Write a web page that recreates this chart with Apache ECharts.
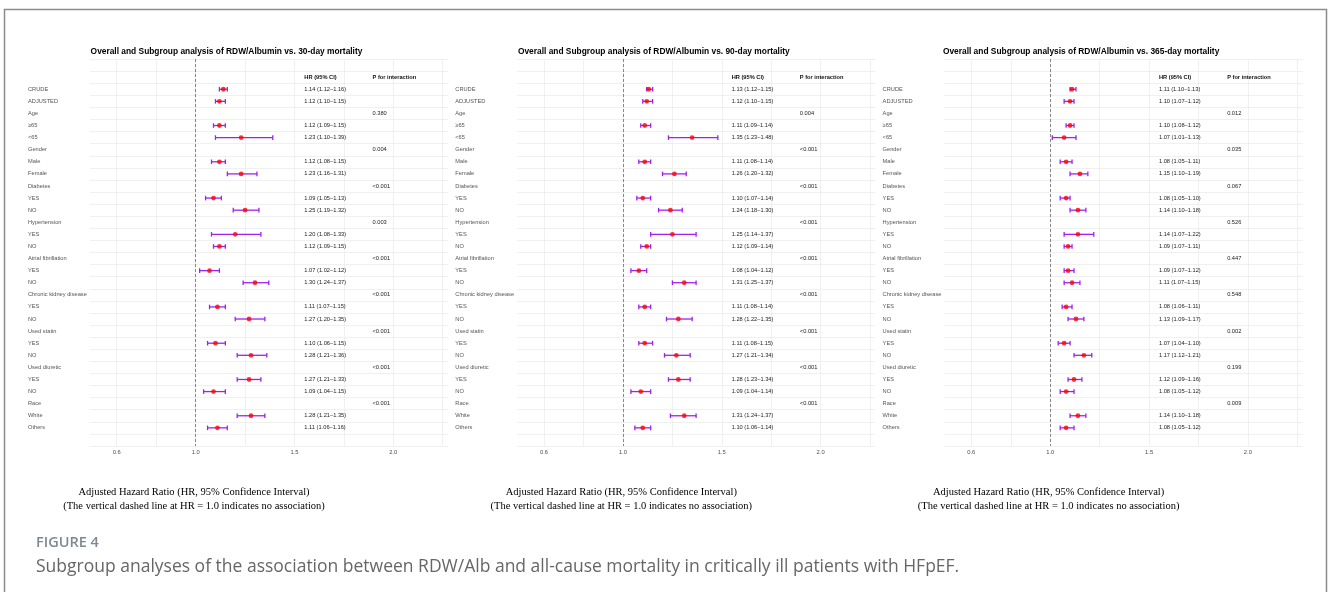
<!DOCTYPE html>
<html>
<head>
<meta charset="utf-8">
<script src="https://cdn.jsdelivr.net/npm/echarts@6/dist/echarts.min.js"></script>
<style>
html,body{margin:0;padding:0;background:#fff;}
#c{width:1328px;height:592px;}
</style>
</head>
<body>
<div id="c"></div>
<script>
// ---------- data ----------
const rowLabels = ['CRUDE','ADJUSTED','Age','≥65','<65','Gender','Male','Female','Diabetes','YES','NO','Hypertension','YES','NO','Atrial fibrillation','YES','NO','Chronic kidney disease','YES','NO','Used statin','YES','NO','Used diuretic','YES','NO','Race','White','Others'];

const titles = [
  'Overall and Subgroup analysis of RDW/Albumin vs. 30-day mortality',
  'Overall and Subgroup analysis of RDW/Albumin vs. 90-day mortality',
  'Overall and Subgroup analysis of RDW/Albumin vs. 365-day mortality'
];

const hr30 = [1.14,1.12,null,1.12,1.23,null,1.12,1.23,null,1.09,1.25,null,1.20,1.12,null,1.07,1.30,null,1.11,1.27,null,1.10,1.28,null,1.27,1.09,null,1.28,1.11];
const lo30 = [1.12,1.10,null,1.09,1.10,null,1.08,1.16,null,1.05,1.19,null,1.08,1.09,null,1.02,1.24,null,1.07,1.20,null,1.06,1.21,null,1.21,1.04,null,1.21,1.06];
const hi30 = [1.16,1.15,null,1.15,1.39,null,1.15,1.31,null,1.13,1.32,null,1.33,1.15,null,1.12,1.37,null,1.15,1.35,null,1.15,1.36,null,1.33,1.15,null,1.35,1.16];
const p30  = ['','','0.380','','','0.004','','','<0.001','','','0.003','','','<0.001','','','<0.001','','','<0.001','','','<0.001','','','<0.001','',''];

const hr90 = [1.13,1.12,null,1.11,1.35,null,1.11,1.26,null,1.10,1.24,null,1.25,1.12,null,1.08,1.31,null,1.11,1.28,null,1.11,1.27,null,1.28,1.09,null,1.31,1.10];
const lo90 = [1.12,1.10,null,1.09,1.23,null,1.08,1.20,null,1.07,1.18,null,1.14,1.09,null,1.04,1.25,null,1.08,1.22,null,1.08,1.21,null,1.23,1.04,null,1.24,1.06];
const hi90 = [1.15,1.15,null,1.14,1.48,null,1.14,1.32,null,1.14,1.30,null,1.37,1.14,null,1.12,1.37,null,1.14,1.35,null,1.15,1.34,null,1.34,1.14,null,1.37,1.14];
const p90  = ['','','0.004','','','<0.001','','','<0.001','','','<0.001','','','<0.001','','','<0.001','','','<0.001','','','<0.001','','','<0.001','',''];

const hr365 = [1.11,1.10,null,1.10,1.07,null,1.08,1.15,null,1.08,1.14,null,1.14,1.09,null,1.09,1.11,null,1.08,1.13,null,1.07,1.17,null,1.12,1.08,null,1.14,1.08];
const lo365 = [1.10,1.07,null,1.08,1.01,null,1.05,1.10,null,1.05,1.10,null,1.07,1.07,null,1.07,1.07,null,1.06,1.09,null,1.04,1.12,null,1.09,1.05,null,1.10,1.05];
const hi365 = [1.13,1.12,null,1.12,1.13,null,1.11,1.19,null,1.10,1.18,null,1.22,1.11,null,1.12,1.15,null,1.11,1.17,null,1.10,1.21,null,1.16,1.12,null,1.18,1.12];
const p365  = ['','','0.012','','','0.035','','','0.067','','','0.526','','','0.447','','','0.548','','','0.002','','','0.199','','','0.009','',''];

const xTickValues = [0.6, 1.0, 1.5, 2.0];
const xGridValues = [0.6, 0.8, 1.0, 1.25, 1.5, 1.75, 2.0, 2.25];
const refValue = 1.0;
const headerHR = 'HR (95% CI)';
const headerP = 'P for interaction';
const axisTitle1 = 'Adjusted Hazard Ratio (HR, 95% Confidence Interval)';
const axisTitle2 = '(The vertical dashed line at HR = 1.0 indicates no association)';
const figLabel = 'FIGURE 4';
const figCaption = 'Subgroup analyses of the association between RDW/Alb and all-cause mortality in critically ill patients with HFpEF.';

const panels = [
  {hr: hr30, lo: lo30, hi: hi30, p: p30},
  {hr: hr90, lo: lo90, hi: hi90, p: p90},
  {hr: hr365, lo: lo365, hi: hi365, p: p365}
];

// ---------- layout ----------
const PANEL_DX = 427.3;
const GRID_LEFT0 = 90, GRID_W = 358, GRID_TOP = 59, GRID_H = 387;
const X_MIN = 0.465, X_MAX = 2.277;
const CI_TEXT_X = 1.55, P_TEXT_X = 1.895;
const SANS = '"Liberation Sans", Arial, Helvetica, sans-serif';
const SERIF = '"Liberation Serif", "Times New Roman", serif';
const yCats = ['', ''].concat(rowLabels).concat(['']);
const ROW0 = 2, HEADER_ROW = 1;

const grids = [], xAxes = [], yAxes = [], series = [], graphics = [];

function fmt(v){ return v.toFixed(2); }

panels.forEach((pn, i) => {
  const left = GRID_LEFT0 + i * PANEL_DX;
  grids.push({left: left, top: GRID_TOP, width: GRID_W, height: GRID_H, containLabel: false});
  xAxes.push({
    type: 'value', gridIndex: i, min: X_MIN, max: X_MAX,
    axisLine: {show: false}, axisTick: {show: false},
    splitLine: {show: false},
    axisLabel: {
      customValues: xTickValues, margin: 3, color: '#4d4d4d', fontSize: 5.8, fontFamily: SANS,
      formatter: v => v.toFixed(1)
    }
  });
  yAxes.push({
    type: 'category', gridIndex: i, data: yCats, inverse: true,
    axisLine: {show: false}, axisTick: {show: false},
    splitLine: {show: true, lineStyle: {color: '#ececec', width: 0.8}},
    axisLabel: {align: 'left', margin: 62, color: '#555', fontSize: 5.7, fontFamily: SANS, interval: 0}
  });

  // vertical gridlines + reference dashed line
  series.push({
    type: 'scatter', xAxisIndex: i, yAxisIndex: i, data: [], silent: true, z: 1,
    markLine: {
      silent: true, symbol: ['none','none'], label: {show: false},
      animation: false,
      lineStyle: {color: '#ececec', width: 0.8, type: 'solid'},
      data: xGridValues.map(v => ({xAxis: v}))
    }
  });
  series.push({
    type: 'scatter', xAxisIndex: i, yAxisIndex: i, data: [], silent: true, z: 2,
    markLine: {
      silent: true, symbol: ['none','none'], label: {show: false},
      animation: false,
      lineStyle: {color: '#7a7a7a', width: 0.9, type: [3, 2]},
      data: [{xAxis: refValue}]
    }
  });

  const barData = [], ptData = [], ciData = [], pData = [];
  pn.hr.forEach((v, k) => {
    const row = ROW0 + k;
    if (v !== null) {
      barData.push([v, row, pn.lo[k], pn.hi[k]]);
      ptData.push([v, row]);
      ciData.push([CI_TEXT_X, row, fmt(v) + ' (' + fmt(pn.lo[k]) + '–' + fmt(pn.hi[k]) + ')', 0]);
    }
    if (pn.p[k]) pData.push([P_TEXT_X, row, pn.p[k], 0]);
  });
  ciData.push([CI_TEXT_X, HEADER_ROW, headerHR, 1]);
  pData.push([P_TEXT_X, HEADER_ROW, headerP, 1]);

  // error bars
  series.push({
    type: 'custom', xAxisIndex: i, yAxisIndex: i, z: 5, silent: true, animation: false,
    data: barData,
    encode: {x: [0, 2, 3], y: 1},
    renderItem: function(params, api){
      const r = api.value(1);
      const a = api.coord([api.value(2), r]);
      const b = api.coord([api.value(3), r]);
      const cap = 2.3;
      const st = {stroke: '#a020f0', lineWidth: 1.3};
      return {type: 'group', children: [
        {type: 'line', shape: {x1: a[0], y1: a[1], x2: b[0], y2: b[1]}, style: st},
        {type: 'line', shape: {x1: a[0], y1: a[1]-cap, x2: a[0], y2: a[1]+cap}, style: st},
        {type: 'line', shape: {x1: b[0], y1: b[1]-cap, x2: b[0], y2: b[1]+cap}, style: st}
      ]};
    }
  });
  // points
  series.push({
    type: 'scatter', xAxisIndex: i, yAxisIndex: i, z: 6, silent: true, animation: false,
    symbol: 'circle', symbolSize: 4.8,
    itemStyle: {color: '#ff0000'},
    data: ptData
  });
  // text columns
  [ciData, pData].forEach(td => {
    series.push({
      type: 'custom', xAxisIndex: i, yAxisIndex: i, z: 6, silent: true, animation: false,
      data: td,
      encode: {x: 0, y: 1},
      renderItem: function(params, api){
        const d = td[params.dataIndex];
        const c = api.coord([d[0], d[1]]);
        return {type: 'text', x: c[0], y: c[1], style: {
          text: d[2], fill: d[3] ? '#111' : '#222',
          font: (d[3] ? 'bold ' : '') + '5.7px ' + SANS,
          align: 'left', verticalAlign: 'middle', textAlign: 'left', textVerticalAlign: 'middle'
        }};
      }
    });
  });

  // titles
  const dx = i * PANEL_DX;
  graphics.push({type: 'text', x: 226.5 + dx, y: 51.7, silent: true, style: {
    text: titles[i], fill: '#000', font: 'bold 8.4px ' + SANS,
    align: 'center', verticalAlign: 'middle', textAlign: 'center', textVerticalAlign: 'middle'}});
  graphics.push({type: 'text', x: 194 + dx, y: 492, silent: true, style: {
    text: axisTitle1, fill: '#000', font: '10.5px ' + SERIF,
    align: 'center', verticalAlign: 'middle', textAlign: 'center', textVerticalAlign: 'middle'}});
  graphics.push({type: 'text', x: 194 + dx, y: 506, silent: true, style: {
    text: axisTitle2, fill: '#000', font: '10.5px ' + SERIF,
    align: 'center', verticalAlign: 'middle', textAlign: 'center', textVerticalAlign: 'middle'}});
});

// frame and caption
graphics.push({type: 'rect', silent: true, shape: {x: 4.5, y: 9.5, width: 1322, height: 620},
  style: {fill: 'none', stroke: '#8c8c8c', lineWidth: 1.5}, z: 0});
graphics.push({type: 'text', x: 36, y: 543, silent: true, style: {
  text: figLabel, fill: '#7c8a90', font: '600 14.5px "Open Sans", sans-serif',
  align: 'left', verticalAlign: 'middle', textAlign: 'left', textVerticalAlign: 'middle'}});
graphics.push({type: 'text', x: 36, y: 567, silent: true, style: {
  text: figCaption, fill: '#666', font: '17.5px "Open Sans", sans-serif',
  align: 'left', verticalAlign: 'middle', textAlign: 'left', textVerticalAlign: 'middle'}});

const chart = echarts.init(document.getElementById('c'), null, {renderer: 'canvas'});
chart.setOption({
  animation: false,
  backgroundColor: '#fff',
  grid: grids, xAxis: xAxes, yAxis: yAxes, series: series,
  graphic: graphics
});
</script>
</body>
</html>
